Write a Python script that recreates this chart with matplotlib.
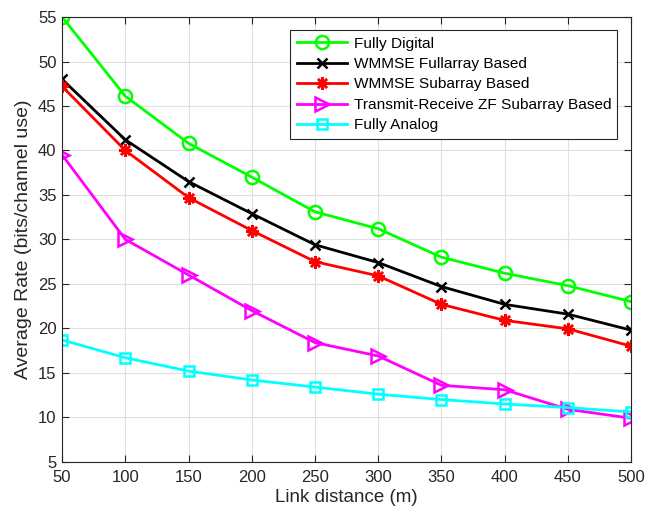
import matplotlib
matplotlib.use("Agg")
from matplotlib import pyplot as plt

plt.rcParams['font.family'] = ['Liberation Sans', 'DejaVu Sans']

# link distance in metres
dist = [50, 100, 150, 200, 250, 300, 350, 400, 450, 500]

# average rate for each scheme (bits/channel use)
fully_digital = [55.0, 46.1, 40.8, 37.0, 33.1, 31.2, 28.0, 26.2, 24.8, 23.0]
wmmse_full = [48.0, 41.2, 36.5, 32.9, 29.4, 27.4, 24.7, 22.7, 21.6, 19.8]
wmmse_sub = [47.2, 40.0, 34.7, 31.0, 27.5, 25.9, 22.7, 20.9, 19.95, 18.0]
zf_sub = [39.5, 30.0, 26.0, 22.0, 18.4, 16.9, 13.6, 13.1, 10.9, 9.9]
fully_analog = [18.7, 16.7, 15.2, 14.2, 13.4, 12.6, 12.0, 11.5, 11.1, 10.6]

labels = ["Fully Digital", "WMMSE Fullarray Based", "WMMSE Subarray Based",
          "Transmit-Receive ZF Subarray Based", "Fully Analog"]

fig = plt.figure(figsize=(6.54, 5.16), dpi=100)
ax = fig.add_axes([0.095, 0.105, 0.87, 0.862])

lw = 2
ax.plot(dist, fully_digital, color='#00ff00', marker='o', ms=9.5, mfc='none', mew=1.8, lw=lw, label=labels[0])
ax.plot(dist, wmmse_full, color='black', marker='x', ms=7, mew=1.8, lw=lw, label=labels[1])
ax.plot(dist, wmmse_sub, color='red', marker=(8, 2, 0), ms=9, mew=1.8, lw=lw, label=labels[2])
ax.plot(dist, zf_sub, color='magenta', marker='>', ms=10, mfc='none', mew=1.8, lw=lw, label=labels[3])
ax.plot(dist, fully_analog, color='cyan', marker='s', ms=7, mfc='none', mew=1.8, lw=lw, label=labels[4])

ax.set_xlim(50, 500)
ax.set_ylim(5, 55)
ax.set_xticks(range(50, 501, 50))
ax.set_yticks(range(5, 56, 5))
ax.grid(True, color='#e0e0e0', lw=0.8)
ax.set_axisbelow(True)
ax.tick_params(direction='in', top=True, right=True, labelsize=12, colors='#262626', length=5)
ax.tick_params(axis='x', pad=6)
ax.tick_params(axis='y', pad=4)
for s in ax.spines.values():
    s.set_color('#262626')
    s.set_linewidth(0.8)

ax.set_xlabel("Link distance (m)", fontsize=13.5, color='#262626', labelpad=3)
ax.set_ylabel("Average Rate (bits/channel use)", fontsize=14, color='#262626', labelpad=4)

leg = ax.legend(loc='upper right', bbox_to_anchor=(0.976, 0.97), fontsize=11.1, fancybox=False,
                edgecolor='#262626', framealpha=1, borderaxespad=0, handlelength=3.3,
                labelspacing=0.42, handletextpad=0.4, borderpad=0.4)
leg.get_frame().set_linewidth(0.8)

fig.savefig("out.png", dpi=100)
